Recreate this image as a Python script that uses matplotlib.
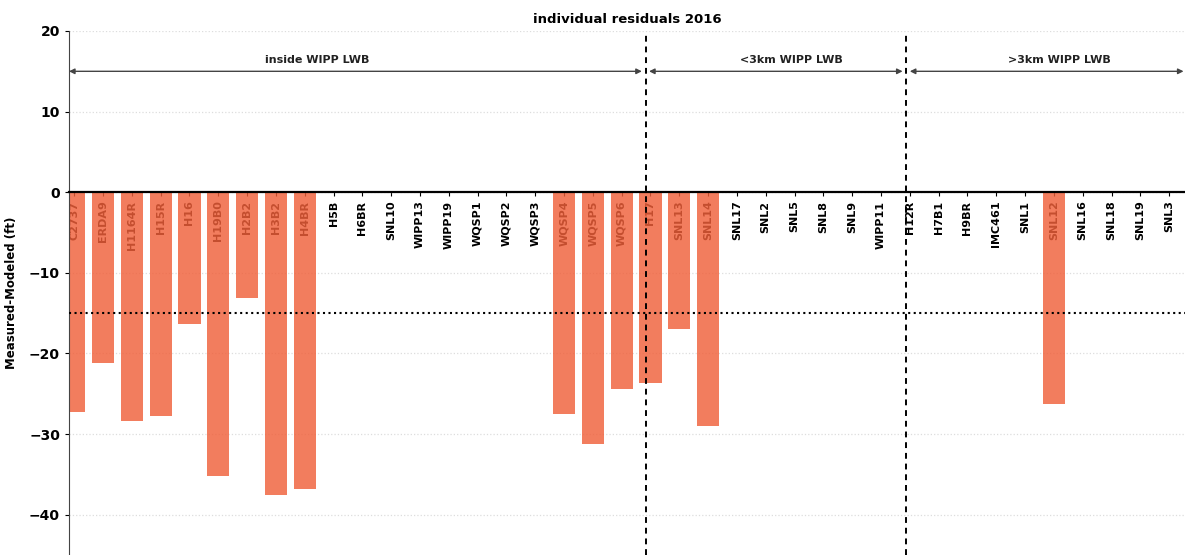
import numpy as np
import matplotlib.pyplot as plt

# wells, grouped by distance from the WIPP LWB
wells = ['C2737', 'ERDA9', 'H1164R', 'H15R', 'H16', 'H19B0', 'H2B2', 'H3B2', 'H4BR',
         'H5B', 'H6BR', 'SNL10', 'WIPP13', 'WIPP19', 'WQSP1', 'WQSP2', 'WQSP3',
         'WQSP4', 'WQSP5', 'WQSP6',
         'H17', 'SNL13', 'SNL14', 'SNL17', 'SNL2', 'SNL5', 'SNL8', 'SNL9', 'WIPP11',
         'H12R', 'H7B1', 'H9BR', 'IMC461', 'SNL1', 'SNL12', 'SNL16', 'SNL18', 'SNL19', 'SNL3']

residuals = [-27.2, -21.2, -28.4, -27.8, -16.4, -35.2, -13.1, -37.6, -36.8,
             0, 0, 0, 0, 0, 0, 0, 0,
             -27.5, -31.2, -24.4,
             -23.7, -17.0, -29.0, 0, 0, 0, 0, 0, 0,
             0, 0, 0, 0, 0, -26.3, 0, 0, 0, 0]

threshold = -15
group_edges = [19.85, 28.87]
group_names = ['inside WIPP LWB', '<3km WIPP LWB', '>3km WIPP LWB']
group_spans = [(-0.18, 19.7), (19.95, 28.75), (29.0, 38.5)]
group_text_x = [8.45, 24.9, 34.2]

fig = plt.figure(figsize=(11.85, 5.55), dpi=100)
ax = fig.add_axes([69 / 1185, 0.0, 1 - 69 / 1185, (555 - 31) / 555])

# spine position first: moving it rebuilds the ticks
ax.spines['top'].set_visible(False)
ax.spines['right'].set_visible(False)
ax.spines['bottom'].set_position(('data', 0))
ax.spines['bottom'].set_linewidth(1.6)
ax.spines['left'].set_color('#444444')

x = np.arange(len(wells))
ax.set_axisbelow(True)
ax.bar(x, residuals, width=0.77, color='#F0603A', alpha=0.82, zorder=1)

ax.set_xlim(-0.18, 38.55)
ax.set_ylim(-45, 20)
ax.set_yticks([-40, -30, -20, -10, 0, 10, 20])
ax.yaxis.grid(True, color='#dddddd', linestyle=':', linewidth=0.9)

ax.set_xticks(x)
ax.set_xticklabels(wells, fontsize=8, fontweight='bold')
ax.tick_params(axis='x', pad=3, length=3, labelrotation=90)
ax.tick_params(axis='y', labelsize=10, length=3)
for lab in ax.get_yticklabels():
    lab.set_fontweight('bold')

ax.axhline(threshold, color='black', linestyle=':', linewidth=1.5, zorder=3)
for xe in group_edges:
    ax.axvline(xe, color='black', linestyle=(0, (3, 2.5)), linewidth=1.4, zorder=3)

for (x0, x1), name, tx in zip(group_spans, group_names, group_text_x):
    ax.annotate('', xy=(x0, 15), xytext=(x1, 15),
                arrowprops=dict(arrowstyle='<|-|>', color='#444444', lw=1.0,
                                mutation_scale=8, shrinkA=0, shrinkB=0))
    ax.text(tx, 16.4, name, ha='center', va='center', fontsize=8,
            fontweight='bold', color='#222222')

ax.set_ylabel('Measured-Modeled (ft)', fontsize=8.5, fontweight='bold', labelpad=8)
ax.set_title('individual residuals 2016', fontsize=9.5, fontweight='bold', pad=6)

fig.savefig('out.png', dpi=100)
